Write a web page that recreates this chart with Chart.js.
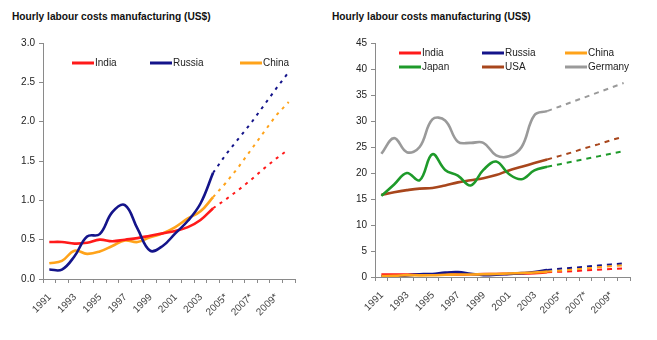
<!DOCTYPE html>
<html>
<head>
<meta charset="utf-8">
<script src="https://cdn.jsdelivr.net/npm/chart.js@4.4.0/dist/chart.umd.min.js"></script>
<style>
  body { margin: 0; background: #fff; width: 657px; height: 340px; position: relative; overflow: hidden; }
  .ttl { position: absolute; top: 11px; font: bold 10.2px "Liberation Sans", Arial, sans-serif; color: #111; white-space: nowrap; }
  canvas { position: absolute; top: 0; }
</style>
</head>
<body>
<div class="ttl" style="left:12px">Hourly labour costs manufacturing (US$)</div>
<div class="ttl" style="left:332px">Hourly labour costs manufacturing (US$)</div>
<canvas id="leftChart" width="320" height="340" style="left:0"></canvas>
<canvas id="rightChart" width="327" height="340" style="left:330px"></canvas>
<script>
// years on the axis, * = forecast
const years = ['1991','1992','1993','1994','1995','1996','1997','1998','1999','2000',
  '2001','2002','2003','2004','2005*','2006*','2007*','2008*','2009*','2010*'];

// actual 1991-2004
const india   = [0.47,0.47,0.45,0.46,0.50,0.48,0.50,0.52,0.55,0.58,0.61,0.66,0.75,0.90];
const russia  = [0.12,0.12,0.29,0.54,0.57,0.85,0.94,0.64,0.36,0.42,0.58,0.74,0.96,1.35];
const china   = [0.20,0.23,0.36,0.32,0.35,0.42,0.49,0.47,0.53,0.58,0.66,0.77,0.86,1.04];
const japan   = [15.6,17.8,20.0,18.6,23.6,20.6,19.5,17.6,20.6,22.2,19.8,18.8,20.5,21.2];
const usa     = [15.8,16.3,16.7,17.0,17.1,17.6,18.2,18.6,19.0,19.6,20.5,21.2,21.9,22.6];
const germany = [23.7,26.7,24.0,25.0,30.3,30.1,26.0,25.8,25.8,23.4,23.2,25.0,31.1,31.9];

// forecasts 2005-2010
const indiaF   = [1.01,1.13,1.26,1.40,1.53,1.65];
const russiaF  = [1.58,1.78,1.98,2.20,2.42,2.63];
const chinaF   = [1.22,1.42,1.64,1.86,2.08,2.25];
const japanF   = [21.7,22.2,22.7,23.2,23.7,24.2];
const usaF     = [23.3,24.0,24.8,25.5,26.3,27.0];
const germanyF = [32.8,33.7,34.6,35.5,36.4,37.3];

const leftTicks = [0, 0.5, 1, 1.5, 2, 2.5, 3];
const rightTicks = [0, 5, 10, 15, 20, 25, 30, 35, 40, 45];

const colors = {
  India: '#ff1a1a', Russia: '#14148a', China: '#ffa31a',
  Japan: '#1e9a2a', USA: '#a8461c', Germany: '#9a9a9a'
};

const FONT = '"Liberation Sans", Arial, sans-serif';

// legend drawn inside plot area, in columns
const lineLegend = {
  id: 'lineLegend',
  afterDraw(chart, args, opts) {
    const ctx = chart.ctx, area = chart.chartArea;
    ctx.save();
    ctx.font = '10px ' + FONT;
    ctx.textBaseline = 'middle';
    opts.names.forEach((name, i) => {
      const col = i % opts.cols.length, row = Math.floor(i / opts.cols.length);
      const x = area.left + opts.cols[col], y = area.top + opts.rows[row];
      ctx.strokeStyle = colors[name];
      ctx.lineWidth = 3;
      ctx.beginPath(); ctx.moveTo(x, y); ctx.lineTo(x + 22, y); ctx.stroke();
      ctx.fillStyle = '#222';
      ctx.fillText(name, x + 23, y + 0.5);
    });
    ctx.restore();
  }
};

// rotated year labels, every other category
const yearLabels = {
  id: 'yearLabels',
  afterDraw(chart) {
    const ctx = chart.ctx, sx = chart.scales.x;
    ctx.save();
    ctx.font = '10px ' + FONT;
    ctx.fillStyle = '#444';
    ctx.textAlign = 'right';
    ctx.textBaseline = 'top';
    chart.data.labels.forEach((lab, i) => {
      if (i % 2) return;
      const x = sx.getPixelForValue(i);
      ctx.save();
      ctx.translate(x - 3, sx.top + 13);
      ctx.rotate(-Math.PI / 4);
      ctx.fillText(lab, 0, 0);
      ctx.restore();
    });
    ctx.restore();
  }
};

function makeSets(list, dash) {
  const sets = [];
  list.forEach(([name, act, fc]) => {
    const pad = years.length - act.length;
    sets.push({
      label: name, data: act.concat(Array(pad).fill(null)),
      borderColor: colors[name], borderWidth: 2.6, tension: 0.4,
      pointRadius: 0, fill: false
    });
    const proj = Array(act.length - 1).fill(null);
    proj.push(act[act.length - 1]);
    sets.push({
      label: name + ' forecast', data: proj.concat(fc),
      borderColor: colors[name], borderWidth: 2, borderDash: dash,
      tension: 0, pointRadius: 0, fill: false
    });
  });
  return sets;
}

function makeOptions(yMax, yStep, fmt, yW, xH, padRight, legend) {
  return {
    responsive: false,
    animation: false,
    layout: { padding: { top: 43, left: 0, right: padRight, bottom: 0 } },
    plugins: {
      legend: { display: false },
      tooltip: { enabled: false },
      lineLegend: legend
    },
    scales: {
      x: {
        type: 'category',
        offset: true,
        grid: { display: true, drawOnChartArea: false, drawTicks: true, tickLength: 4, color: '#8a8a8a', offset: true },
        border: { display: true, color: '#8a8a8a' },
        ticks: { display: false, autoSkip: false },
        afterFit: (s) => { s.height = xH; }
      },
      y: {
        min: 0, max: yMax,
        grid: { display: true, drawOnChartArea: false, drawTicks: true, tickLength: 4, color: '#8a8a8a' },
        border: { display: true, color: '#8a8a8a' },
        ticks: {
          stepSize: yStep, padding: 4, color: '#222',
          font: { family: FONT, size: 10 },
          callback: fmt
        },
        afterFit: (s) => { s.width = yW; }
      }
    }
  };
}

new Chart(document.getElementById('leftChart'), {
  type: 'line',
  data: {
    labels: years,
    datasets: makeSets([
      ['Russia', russia, russiaF],
      ['India', india, indiaF],
      ['China', china, chinaF]
    ], [3, 5])
  },
  options: makeOptions(leftTicks[leftTicks.length - 1], leftTicks[1], (v) => v.toFixed(1), 43, 61, 25,
    { names: ['India', 'Russia', 'China'], cols: [29, 107, 197], rows: [20] }),
  plugins: [lineLegend, yearLabels]
});

new Chart(document.getElementById('rightChart'), {
  type: 'line',
  data: {
    labels: years,
    datasets: makeSets([
      ['China', china, chinaF],
      ['Russia', russia, russiaF],
      ['India', india, indiaF],
      ['Japan', japan, japanF],
      ['USA', usa, usaF],
      ['Germany', germany, germanyF]
    ], [5, 5])
  },
  options: makeOptions(rightTicks[rightTicks.length - 1], rightTicks[1], (v) => String(v), 45, 63, 27,
    { names: ['India', 'Russia', 'China', 'Japan', 'USA', 'Germany'], cols: [24, 107, 190], rows: [10, 24] }),
  plugins: [lineLegend, yearLabels]
});
</script>
</body>
</html>
